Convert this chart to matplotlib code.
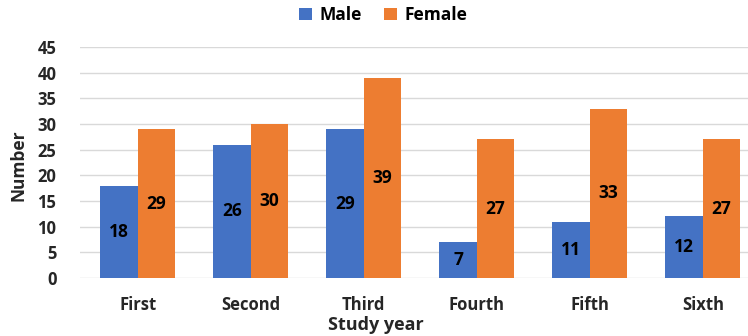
import matplotlib
matplotlib.use("Agg")
import matplotlib.pyplot as plt
import numpy as np

categories = ["First", "Second", "Third", "Fourth", "Fifth", "Sixth"]
male = [18, 26, 29, 7, 11, 12]
female = [29, 30, 39, 27, 33, 27]
yticks = [0, 5, 10, 15, 20, 25, 30, 35, 40, 45]

plt.rcParams['font.family'] = ['Open Sans', 'DejaVu Sans']
blue = "#4472C4"
orange = "#ED7D31"

fig = plt.figure(figsize=(7.48, 3.36), dpi=100)
L, T, B = 80, 47, 278
ax = fig.add_axes([L/748, 1-B/336, 1-L/748, (B-T)/336])

x = np.arange(len(categories))
w = 0.33
b1 = ax.bar(x - w/2, male, w, color=blue, label="Male", zorder=3)
b2 = ax.bar(x + w/2, female, w, color=orange, label="Female", zorder=3)

for bars, vals in ((b1, male), (b2, female)):
    for r, v in zip(bars, vals):
        ax.text(r.get_x() + r.get_width()/2, v/2, str(v), ha="center", va="center",
                fontsize=12.5, fontweight="bold", color="black", zorder=4)

ax.set_ylim(0, 45)
ax.set_yticks(yticks)
ax.set_xlim(-0.51, 5.4)
ax.set_xticks(x)
ax.set_xticklabels(categories)
ax.grid(axis="y", color="#D9D9D9", linewidth=1, zorder=0)
for s in ax.spines.values():
    s.set_visible(False)
ax.tick_params(length=0, labelsize=12, colors="#262626")
for lab in ax.get_xticklabels() + ax.get_yticklabels():
    lab.set_fontweight("bold")
ax.tick_params(axis="x", pad=13)
ax.tick_params(axis="y", pad=17)

ax.set_xlabel("Study year", fontsize=13, fontweight="bold", color="#262626")
ax.xaxis.set_label_coords((376-L)/(748-L), (B-316)/(B-T))
ax.set_ylabel("Number", fontsize=12.5, fontweight="bold", color="#262626")
ax.yaxis.set_label_coords((28-L)/(748-L), (B-165)/(B-T))

fig.legend(handles=[b1, b2], labels=["Male", "Female"], loc="center",
           bbox_to_anchor=(383/748, 1-15/336), ncol=2, frameon=False,
           prop={"weight": "bold", "size": 12.5}, handlelength=0.75, handleheight=0.75,
           columnspacing=1.3, handletextpad=0.4)

fig.savefig("out.png", dpi=100)
